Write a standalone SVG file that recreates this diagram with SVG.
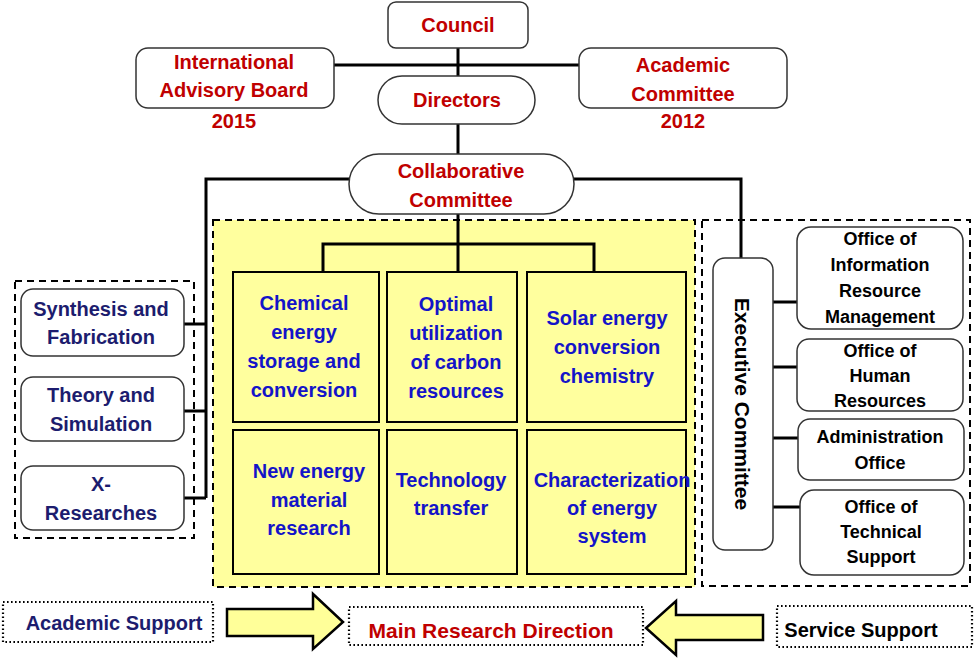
<svg xmlns="http://www.w3.org/2000/svg" width="976" height="658" viewBox="0 0 976 658">
<style>
text{font-family:"Liberation Sans",Arial,sans-serif;font-weight:bold;text-anchor:middle}
.red{fill:#C00000;font-size:20px}
.blue{fill:#1414C8;font-size:20px}
.navy{fill:#1C1C6E;font-size:20px}
.blk{fill:#000;font-size:18px}
.rbox{fill:#fff;stroke:#333;stroke-width:1.5}
.cell{fill:#FFFF9E;stroke:#000;stroke-width:2}
.dash{fill:none;stroke:#000;stroke-width:2;stroke-dasharray:7 5}
.yfill{fill:#FFFF9E;stroke:none}
.dot{fill:#fff;stroke:#000;stroke-width:2.2;stroke-dasharray:1.6 2.4}
.ln{fill:none;stroke:#000;stroke-width:3}
.arr{fill:#FFFF99;stroke:#000;stroke-width:2.5;stroke-linejoin:miter}
</style>
<rect width="976" height="658" fill="#fff"/>

<!-- containers -->
<g id="research-area">
<rect x="213" y="220" width="482" height="367" class="yfill"/>
<rect x="213" y="220" width="482" height="367" class="dash"/>
</g>
<g id="support-area">
<rect x="15" y="281" width="179" height="257" class="dash"/>
</g>
<g id="service-area">
<rect x="702" y="220" width="268" height="366" class="dash"/>
</g>

<!-- connectors -->
<g id="connectors">
<path class="ln" d="M334 65 H579"/>
<path class="ln" d="M458 48 V76"/>
<path class="ln" d="M458 124 V154"/>
<path class="ln" d="M349 179 H206 V498"/>
<path class="ln" d="M184 324 H206 M184 411 H206 M184 498 H206"/>
<path class="ln" d="M574 179 H741 V258"/>
<path class="ln" d="M458 214 V244 M323 244 H594 M323 242.5 V272 M458 244 V272 M594 242.5 V272"/>
<path class="ln" d="M773 302 H797 M773 367 H797 M773 438 H798 M773 507 H800"/>
</g>

<g id="council">
<rect class="rbox" x="388" y="2" width="140" height="46" rx="8"/>
<text class="red" x="458" y="32">Council</text>
</g>
<g id="advisory-board">
<rect class="rbox" x="136" y="48" width="198" height="60" rx="12"/>
<text class="red" x="234" y="69">International</text>
<text class="red" x="234" y="97">Advisory Board</text>
<text class="red" x="234" y="128">2015</text>
</g>
<g id="academic-committee">
<rect class="rbox" x="579" y="48" width="208" height="60" rx="12"/>
<text class="red" x="683" y="72">Academic</text>
<text class="red" x="683" y="101">Committee</text>
<text class="red" x="683" y="128">2012</text>
</g>
<g id="directors">
<rect class="rbox" x="378" y="76" width="157" height="48" rx="24"/>
<text class="red" x="457" y="107">Directors</text>
</g>
<g id="collaborative-committee">
<rect class="rbox" x="349" y="154" width="225" height="60" rx="30"/>
<text class="red" x="461" y="178">Collaborative</text>
<text class="red" x="461" y="207">Committee</text>
</g>

<g id="synthesis">
<rect class="rbox" x="21" y="289" width="163" height="67" rx="12"/>
<text class="navy" x="101" y="316">Synthesis and</text>
<text class="navy" x="101" y="344">Fabrication</text>
</g>
<g id="theory">
<rect class="rbox" x="21" y="377" width="163" height="64" rx="12"/>
<text class="navy" x="101" y="402">Theory and</text>
<text class="navy" x="101" y="431">Simulation</text>
</g>
<g id="x-researches">
<rect class="rbox" x="21" y="466" width="163" height="64" rx="12"/>
<text class="navy" x="101" y="491">X-</text>
<text class="navy" x="101" y="520">Researches</text>
</g>

<g id="chemical-energy">
<rect class="cell" x="233" y="272" width="146" height="150"/>
<text class="blue" x="304" y="310">Chemical</text>
<text class="blue" x="304" y="339">energy</text>
<text class="blue" x="304" y="368">storage and</text>
<text class="blue" x="304" y="397">conversion</text>
</g>
<g id="carbon-resources">
<rect class="cell" x="387" y="272" width="130" height="150"/>
<text class="blue" x="456" y="311">Optimal</text>
<text class="blue" x="456" y="340">utilization</text>
<text class="blue" x="456" y="369">of carbon</text>
<text class="blue" x="456" y="398">resources</text>
</g>
<g id="solar-energy">
<rect class="cell" x="527" y="272" width="159" height="150"/>
<text class="blue" x="607" y="325">Solar energy</text>
<text class="blue" x="607" y="354">conversion</text>
<text class="blue" x="607" y="383">chemistry</text>
</g>
<g id="new-energy-material">
<rect class="cell" x="233" y="430" width="146" height="144"/>
<text class="blue" x="309" y="478">New energy</text>
<text class="blue" x="309" y="507">material</text>
<text class="blue" x="309" y="535">research</text>
</g>
<g id="technology-transfer">
<rect class="cell" x="387" y="430" width="130" height="144"/>
<text class="blue" x="451" y="487">Technology</text>
<text class="blue" x="451" y="515">transfer</text>
</g>
<g id="characterization">
<rect class="cell" x="527" y="430" width="159" height="144"/>
<text class="blue" x="612" y="487">Characterization</text>
<text class="blue" x="612" y="515">of energy</text>
<text class="blue" x="612" y="543">system</text>
</g>

<g id="executive-committee">
<rect class="rbox" x="713" y="258" width="60" height="292" rx="12"/>
<text fill="#000" font-size="21" x="742" y="404" dominant-baseline="central" transform="rotate(90 742 404)">Executive Committee</text>
</g>
<g id="office-information">
<rect class="rbox" x="797" y="227" width="166" height="102" rx="14"/>
<text class="blk" x="880" y="245">Office of</text>
<text class="blk" x="880" y="271">Information</text>
<text class="blk" x="880" y="297">Resource</text>
<text class="blk" x="880" y="323">Management</text>
</g>
<g id="office-human">
<rect class="rbox" x="797" y="339" width="166" height="72" rx="12"/>
<text class="blk" x="880" y="357">Office of</text>
<text class="blk" x="880" y="382">Human</text>
<text class="blk" x="880" y="407">Resources</text>
</g>
<g id="administration">
<rect class="rbox" x="798" y="419" width="166" height="61" rx="12"/>
<text class="blk" x="880" y="443">Administration</text>
<text class="blk" x="880" y="469">Office</text>
</g>
<g id="office-technical">
<rect class="rbox" x="800" y="490" width="164" height="85" rx="14"/>
<text class="blk" x="881" y="513">Office of</text>
<text class="blk" x="881" y="538">Technical</text>
<text class="blk" x="881" y="563">Support</text>
</g>

<g id="academic-support">
<rect class="dot" x="3" y="602" width="210" height="40"/>
<text fill="#1C1C6E" x="114" y="630" style="font-size:20px">Academic Support</text>
</g>
<g id="main-research-direction">
<rect class="dot" x="349" y="607" width="294" height="38"/>
<text fill="#C00000" x="491" y="638" style="font-size:21px">Main Research Direction</text>
</g>
<g id="service-support">
<rect class="dot" x="777" y="606" width="195" height="41"/>
<text fill="#000" x="861" y="637" style="font-size:20px">Service Support</text>
</g>
<g id="arrows">
<path class="arr" d="M227 609 H313 V594 L343 622 L313 649 V636 H227 Z"/>
<path class="arr" d="M763 615 H676 V601 L646 628 L676 655 V640 H763 Z"/>
</g>
</svg>
